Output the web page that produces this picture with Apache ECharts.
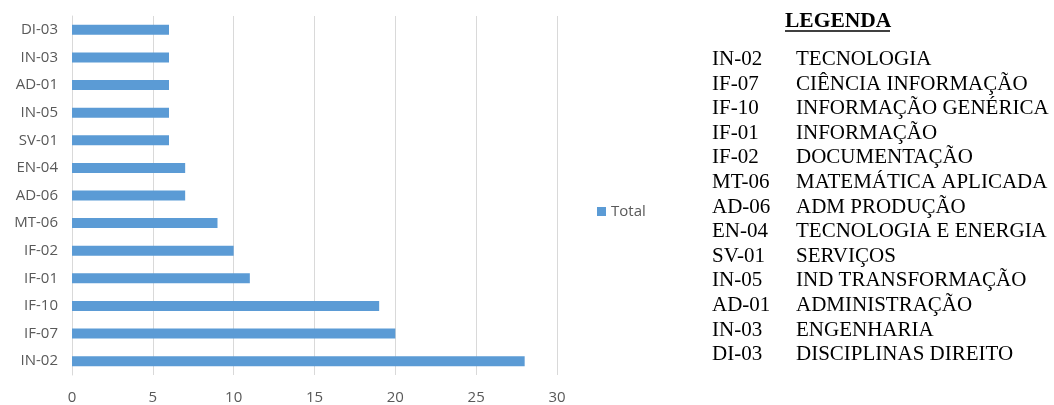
<!DOCTYPE html>
<html>
<head>
<meta charset="utf-8">
<script src="https://cdn.jsdelivr.net/npm/echarts@6/dist/echarts.min.js"></script>
<style>
  html, body { margin: 0; padding: 0; background: #fff; }
  #chart { width: 1054px; height: 405px; }
</style>
</head>
<body>
<div id="chart"></div>
<script>
// Category codes, bottom to top
const categories = ['IN-02', 'IF-07', 'IF-10', 'IF-01', 'IF-02', 'MT-06', 'AD-06', 'EN-04', 'SV-01', 'IN-05', 'AD-01', 'IN-03', 'DI-03'];
const totals = [28, 20, 19, 11, 10, 9, 7, 7, 6, 6, 6, 6, 6];
const xTicks = [0, 5, 10, 15, 20, 25, 30];

// Key for the codes, in listing order
const keyTitle = 'LEGENDA';
const keyCodes = ['IN-02', 'IF-07', 'IF-10', 'IF-01', 'IF-02', 'MT-06', 'AD-06', 'EN-04', 'SV-01', 'IN-05', 'AD-01', 'IN-03', 'DI-03'];
const keyNames = ['TECNOLOGIA', 'CIÊNCIA INFORMAÇÃO', 'INFORMAÇÃO GENÉRICA', 'INFORMAÇÃO', 'DOCUMENTAÇÃO',
  'MATEMÁTICA APLICADA', 'ADM PRODUÇÃO', 'TECNOLOGIA E ENERGIA', 'SERVIÇOS', 'IND TRANSFORMAÇÃO',
  'ADMINISTRAÇÃO', 'ENGENHARIA', 'DISCIPLINAS DIREITO'];

const chart = echarts.init(document.getElementById('chart'), null, { renderer: 'canvas' });

const serif = '"Liberation Serif", "DejaVu Serif", serif';
const keyFont = { fontFamily: serif, fontSize: 21, fill: '#000' };

const graphics = [
  { type: 'text', left: 785, top: 10, style: Object.assign({}, keyFont, { text: keyTitle, fontWeight: 'bold', fontSize: 21.5 }) },
  { type: 'line', shape: { x1: 785, y1: 31, x2: 890, y2: 31 }, style: { stroke: '#000', lineWidth: 1.5 } }
];
keyCodes.forEach((code, i) => {
  const y = 49 + i * 24.6;
  graphics.push({ type: 'text', left: 712, top: y, style: Object.assign({}, keyFont, { text: code }) });
  graphics.push({ type: 'text', left: 796, top: y, style: Object.assign({}, keyFont, { text: keyNames[i] }) });
});

chart.setOption({
  animation: false,
  textStyle: { fontFamily: '"Open Sans", "Noto Sans", sans-serif' },
  grid: { left: 72, right: 497, top: 16, bottom: 29, containLabel: false },
  legend: {
    data: ['Total'],
    left: 592, top: 199,
    itemWidth: 9, itemHeight: 9, itemGap: 4,
    icon: 'rect',
    textStyle: { color: '#595959', fontSize: 15 }
  },
  xAxis: {
    type: 'value', min: xTicks[0], max: xTicks[xTicks.length - 1], interval: xTicks[1] - xTicks[0],
    axisLine: { show: false }, axisTick: { show: false },
    axisLabel: { color: '#595959', fontSize: 15, margin: 15 },
    splitLine: { lineStyle: { color: '#d9d9d9', width: 1 } }
  },
  yAxis: {
    type: 'category', data: categories,
    axisLine: { show: true, lineStyle: { color: '#d9d9d9' } },
    axisTick: { show: false },
    axisLabel: { color: '#595959', fontSize: 15, margin: 14 }
  },
  series: [{
    name: 'Total', type: 'bar', data: totals,
    barWidth: 10,
    itemStyle: { color: '#5b9bd5' }
  }],
  graphic: graphics
});
</script>
</body>
</html>
